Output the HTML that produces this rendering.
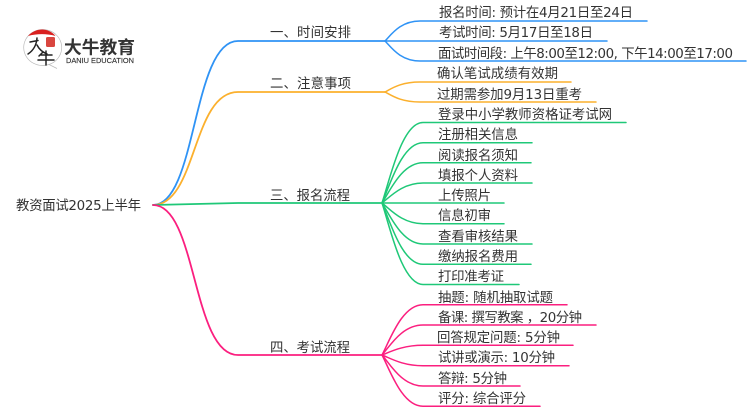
<!DOCTYPE html>
<html lang="zh">
<head>
<meta charset="utf-8">
<style>
html,body{margin:0;padding:0;background:#fff;width:750px;height:410px;overflow:hidden}
svg{display:block;filter:blur(.35px)}
text{font-family:"DejaVu Sans","WenQuanYi Zen Hei","Noto Sans CJK SC",sans-serif;font-size:13.4px;fill:#333}
path{fill:none;stroke-linecap:round}
.b{stroke:#2f93f5}.o{stroke:#fbb02d}.g{stroke:#1fc878}.p{stroke:#fb1f7f}
.t{stroke-width:1.8}.l{stroke-width:1.5}
</style>
</head>
<body>
<svg width="750" height="410" viewBox="0 0 750 410" xmlns="http://www.w3.org/2000/svg">
<!-- logo -->
<path d="M49 64.500A19 18 0 1 0 42 65.500C46 65.500 47 65 49 64.500L57 68.500Z" style="fill:#fff;stroke:#bbb;stroke-width:.7"/>
<path d="M28 36C32 31.500 37 29.500 42 29.500C47 29.500 52 31.500 55.500 36C47 33.500 37 33.500 28 36Z" style="fill:#d9201f;stroke:none"/>
<rect x="46" y="37" width="9" height="10" rx="1.5" fill="#d9463f"/>
<path d="M30 42L38 40.500M37 38C36.500 45 34 50 28 54M37 45C39 49 42 52 47 54" style="stroke:#222;stroke-width:1.500"/>
<path d="M43 52L39 56M41 55H52M38 60H54M46 51V65" style="stroke:#222;stroke-width:1.500"/>
<text x="64" y="53.500" textLength="71" lengthAdjust="spacingAndGlyphs" style="font-family:'Noto Sans CJK SC',sans-serif;font-size:17.500px;font-weight:700;fill:#333">大牛教育</text>
<text x="66" y="63" textLength="68" lengthAdjust="spacingAndGlyphs" style="font-family:'Liberation Sans',sans-serif;font-size:7.500px;fill:#333;stroke:#333;stroke-width:.15">DANIU EDUCATION</text>

<!-- main branches -->
<path class="t b" d="M153 205C197 205 192 41 238 41H385"/>
<path class="t o" d="M153 205C197 205 192 92 238 92H385"/>
<path class="t g" d="M153 205L238 203H382"/>
<path class="t p" d="M153 205C197 205 192 355 238 355H382"/>

<!-- blue leaves -->
<path class="l b" d="M385 41C391 35 400 21 420 21H647"/>
<path class="l b" d="M385 41H607"/>
<path class="l b" d="M385 41C391 47 400 61 420 61H746"/>
<!-- orange leaves -->
<path class="l o" d="M385 92C391 89 400 82 420 82H571"/>
<path class="l o" d="M385 92C391 95 400 102 420 102H596"/>
<!-- green leaves -->
<path class="l g" d="M382 203C390 179 402 122.500 423 122.500H626"/>
<path class="l g" d="M382 203C390 185 402 142.700 423 142.700H532"/>
<path class="l g" d="M382 203C390 191 402 162.800 423 162.800H531"/>
<path class="l g" d="M382 203C390 197 402 183 423 183H532"/>
<path class="l g" d="M382 203H504"/>
<path class="l g" d="M382 203C390 209 402 223.700 423 223.700H504"/>
<path class="l g" d="M382 203C390 215 402 244 423 244H532"/>
<path class="l g" d="M382 203C390 221 402 264.300 423 264.300H531"/>
<path class="l g" d="M382 203C390 227 402 284.500 423 284.500H519"/>
<!-- pink leaves -->
<path class="l p" d="M382 355C390 340 402 304.700 423 304.700H567"/>
<path class="l p" d="M382 355C390 346 402 325 423 325H596"/>
<path class="l p" d="M382 355C390 352 402 345.300 423 345.300H573"/>
<path class="l p" d="M382 355C390 358 402 365.700 423 365.700H569"/>
<path class="l p" d="M382 355C390 364 402 386 423 386H520"/>
<path class="l p" d="M382 355C390 370 402 406.300 423 406.300H540"/>

<!-- labels -->
<text x="16" y="210" textLength="125">教资面试2025上半年</text>
<text x="270" y="37" textLength="81">一、时间安排</text>
<text x="270" y="88" textLength="81">二、注意事项</text>
<text x="270" y="200" textLength="80">三、报名流程</text>
<text x="270" y="352" textLength="80">四、考试流程</text>

<text x="439" y="17" textLength="194">报名时间: 预计在4月21日至24日</text>
<text x="439" y="37" textLength="154">考试时间: 5月17日至18日</text>
<text x="438" y="58" textLength="295">面试时间段: 上午8:00至12:00, 下午14:00至17:00</text>
<text x="437" y="78" textLength="121">确认笔试成绩有效期</text>
<text x="437" y="99" textLength="145">过期需参加9月13日重考</text>

<text x="438" y="119" textLength="174">登录中小学教师资格证考试网</text>
<text x="438" y="139" textLength="80">注册相关信息</text>
<text x="438" y="160" textLength="80">阅读报名须知</text>
<text x="438" y="180" textLength="80">填报个人资料</text>
<text x="438" y="200" textLength="53">上传照片</text>
<text x="438" y="220" textLength="53">信息初审</text>
<text x="438" y="241" textLength="80">查看审核结果</text>
<text x="438" y="261" textLength="80">缴纳报名费用</text>
<text x="438" y="281" textLength="66">打印准考证</text>

<text x="438" y="302" textLength="115">抽题: 随机抽取试题</text>
<text x="438" y="322" textLength="144">备课: 撰写教案 ，20分钟</text>
<text x="437" y="342" textLength="123">回答规定问题: 5分钟</text>
<text x="438" y="362" textLength="117">试讲或演示: 10分钟</text>
<text x="438" y="383" textLength="69">答辩: 5分钟</text>
<text x="438" y="403" textLength="88">评分: 综合评分</text>
</svg>
</body>
</html>
